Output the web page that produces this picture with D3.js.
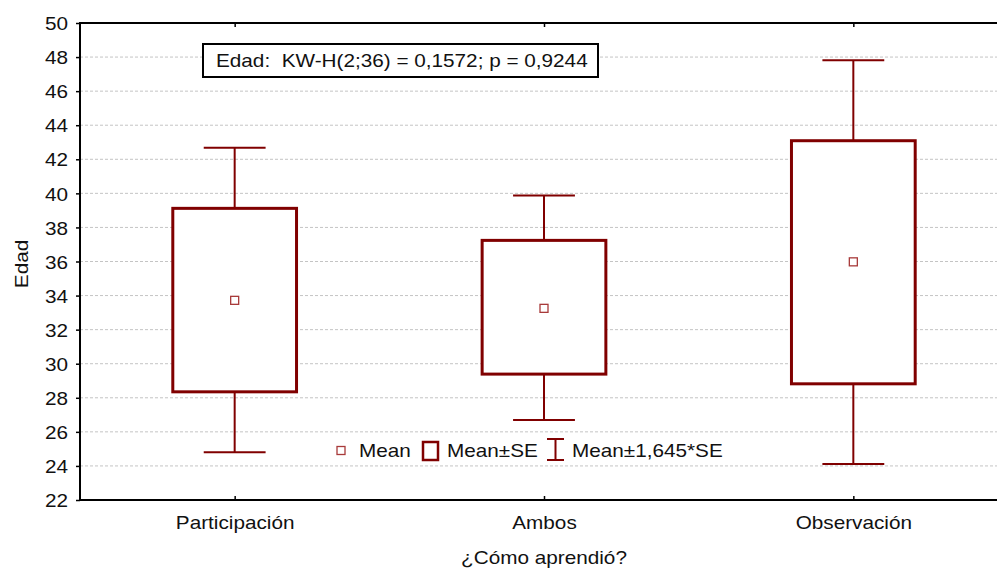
<!DOCTYPE html>
<html>
<head>
<meta charset="utf-8">
<script src="https://cdn.jsdelivr.net/npm/d3@7/dist/d3.min.js"></script>
<style>
  html, body { margin: 0; padding: 0; background: #fff; overflow: hidden; }
  svg { display: block; font-family: Arial, "Liberation Sans", sans-serif; }
</style>
</head>
<body>
<svg id="chart" width="997" height="573"></svg>
<script>
// Age by learning mode: mean, mean ± SE, mean ± 1.645*SE
const categories = ["Participación", "Ambos", "Observación"];
const means      = [33.72, 33.25, 35.98];
const seLow      = [28.35, 29.39, 28.82];
const seHigh     = [39.12, 37.24, 43.09];
const ciLow      = [24.80, 26.70, 24.12];
const ciHigh     = [42.68, 39.88, 47.81];
const yTicks     = [22, 24, 26, 28, 30, 32, 34, 36, 38, 40, 42, 44, 46, 48, 50];
const statText   = "Edad:  KW-H(2;36) = 0,1572; p = 0,9244";
const legendItems = ["Mean", "Mean±SE", "Mean±1,645*SE"];

const data = categories.map((c, i) => ({
  cat: c, mean: means[i], lo: seLow[i], hi: seHigh[i], wlo: ciLow[i], whi: ciHigh[i]
}));

const svg = d3.select("#chart");
const plotL = 80, plotT = 23, plotR = 1008, plotB = 500;
const red = "#800000";
const fs = 18.5;
const wide = 1.12; // horizontal stretch of the label face

// stretch a text element horizontally to its natural width times `wide`
function stretch(sel) {
  sel.each(function () {
    const w = this.getComputedTextLength();
    d3.select(this).attr("textLength", w * wide).attr("lengthAdjust", "spacingAndGlyphs");
  });
  return sel;
}

const x = d3.scalePoint().domain(categories).range([plotL, plotR]).padding(0.5);
const y = d3.scaleLinear().domain([22, 50]).range([plotB, plotT]);
const step = x.step();
const boxW = step * 0.4;
const capW = boxW * 0.5;

// horizontal grid
svg.append("g").selectAll("line")
  .data(yTicks.filter(t => t > 22 && t < 50))
  .join("line")
  .attr("x1", plotL).attr("x2", plotR)
  .attr("y1", d => y(d)).attr("y2", d => y(d))
  .attr("stroke", "#c4c4c4").attr("stroke-width", 1)
  .attr("stroke-dasharray", "3,2");

// y axis
const yAxis = svg.append("g")
  .attr("transform", `translate(${plotL},0)`)
  .call(d3.axisLeft(y).tickValues(yTicks).tickSize(4).tickSizeOuter(0).tickPadding(8));
yAxis.select(".domain").remove();
yAxis.selectAll("line").attr("stroke", "#000").attr("stroke-width", 1.5);
yAxis.selectAll("text").attr("font-size", fs).attr("fill", "#111")
  .attr("x", -12).attr("dy", "0.36em");
stretch(yAxis.selectAll("text"));

// x axis (bottom), ticks pointing inward
const xAxis = svg.append("g")
  .attr("transform", `translate(0,${plotB})`)
  .call(d3.axisBottom(x).tickSize(-4).tickSizeOuter(0));
xAxis.select(".domain").remove();
xAxis.selectAll("line").attr("stroke", "#000").attr("stroke-width", 1.5);
xAxis.selectAll("text").attr("font-size", fs).attr("fill", "#111")
  .attr("y", 29).attr("dy", null);
stretch(xAxis.selectAll("text"));

// top axis ticks
const xTop = svg.append("g")
  .attr("transform", `translate(0,${plotT})`)
  .call(d3.axisTop(x).tickSize(-4).tickSizeOuter(0).tickFormat(""));
xTop.select(".domain").remove();
xTop.selectAll("line").attr("stroke", "#000").attr("stroke-width", 1.5);

// frame
svg.append("line").attr("x1", plotL).attr("x2", plotR).attr("y1", plotT).attr("y2", plotT)
  .attr("stroke", "#000").attr("stroke-width", 2);
svg.append("line").attr("x1", plotL).attr("x2", plotR).attr("y1", plotB).attr("y2", plotB)
  .attr("stroke", "#000").attr("stroke-width", 2);
svg.append("line").attr("x1", plotL).attr("x2", plotL).attr("y1", plotT - 1).attr("y2", plotB + 1)
  .attr("stroke", "#000").attr("stroke-width", 2);

// boxes and whiskers
const g = svg.append("g").selectAll("g").data(data).join("g");

g.append("line")
  .attr("x1", d => x(d.cat)).attr("x2", d => x(d.cat))
  .attr("y1", d => y(d.whi)).attr("y2", d => y(d.hi))
  .attr("stroke", red).attr("stroke-width", 2);
g.append("line")
  .attr("x1", d => x(d.cat)).attr("x2", d => x(d.cat))
  .attr("y1", d => y(d.lo)).attr("y2", d => y(d.wlo))
  .attr("stroke", red).attr("stroke-width", 2);
g.append("line")
  .attr("x1", d => x(d.cat) - capW / 2).attr("x2", d => x(d.cat) + capW / 2)
  .attr("y1", d => y(d.whi)).attr("y2", d => y(d.whi))
  .attr("stroke", red).attr("stroke-width", 2);
g.append("line")
  .attr("x1", d => x(d.cat) - capW / 2).attr("x2", d => x(d.cat) + capW / 2)
  .attr("y1", d => y(d.wlo)).attr("y2", d => y(d.wlo))
  .attr("stroke", red).attr("stroke-width", 2);
g.append("rect")
  .attr("x", d => x(d.cat) - boxW / 2).attr("width", boxW)
  .attr("y", d => y(d.hi)).attr("height", d => y(d.lo) - y(d.hi))
  .attr("fill", "#fff").attr("stroke", red).attr("stroke-width", 3);
g.append("rect")
  .attr("x", d => x(d.cat) - 4).attr("y", d => y(d.mean) - 4)
  .attr("width", 8).attr("height", 8)
  .attr("fill", "#fff").attr("stroke", "#a83a3a").attr("stroke-width", 1.3);

// statistic label box
const sb = svg.append("g");
sb.append("rect").attr("x", 203).attr("y", 44).attr("width", 395).attr("height", 33)
  .attr("fill", "#fff").attr("stroke", "#000").attr("stroke-width", 2);
stretch(sb.append("text").attr("x", 216).attr("y", 67).attr("font-size", fs).attr("fill", "#111")
  .attr("xml:space", "preserve").style("white-space", "pre").text(statText));

// legend
const lg = svg.append("g");
lg.append("rect").attr("x", 337).attr("y", 446.5).attr("width", 8).attr("height", 8)
  .attr("fill", "#fff").attr("stroke", "#a83a3a").attr("stroke-width", 1.3);
stretch(lg.append("text").attr("x", 359).attr("y", 457).attr("font-size", fs).attr("fill", "#111").text(legendItems[0]));
lg.append("rect").attr("x", 423).attr("y", 442).attr("width", 15).attr("height", 18)
  .attr("fill", "#fff").attr("stroke", red).attr("stroke-width", 2.5);
stretch(lg.append("text").attr("x", 447).attr("y", 457).attr("font-size", fs).attr("fill", "#111").text(legendItems[1]));
lg.append("line").attr("x1", 547).attr("x2", 564).attr("y1", 439).attr("y2", 439).attr("stroke", red).attr("stroke-width", 2);
lg.append("line").attr("x1", 547).attr("x2", 564).attr("y1", 460).attr("y2", 460).attr("stroke", red).attr("stroke-width", 2);
lg.append("line").attr("x1", 555.5).attr("x2", 555.5).attr("y1", 439).attr("y2", 460).attr("stroke", red).attr("stroke-width", 2);
stretch(lg.append("text").attr("x", 572).attr("y", 457).attr("font-size", fs).attr("fill", "#111").text(legendItems[2]));

// axis titles
stretch(svg.append("text").attr("x", 544).attr("y", 564).attr("text-anchor", "middle")
  .attr("font-size", fs).attr("fill", "#111").text("¿Cómo aprendió?"));
stretch(svg.append("text").attr("transform", "translate(28,264) rotate(-90)").attr("text-anchor", "middle")
  .attr("font-size", fs).attr("fill", "#111").text("Edad"));
</script>
</body>
</html>
